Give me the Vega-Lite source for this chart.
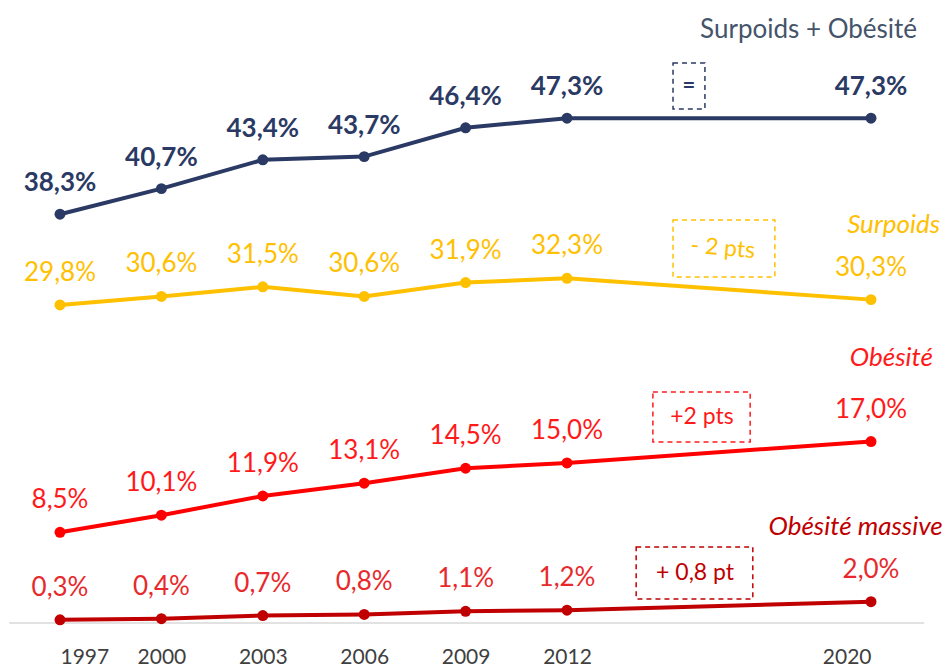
{
  "$schema": "https://vega.github.io/schema/vega-lite/v6.json",
  "autosize": {"type": "none"},
  "width": 947,
  "height": 619,
  "padding": {"top": 4, "left": 0, "right": 0, "bottom": 43},
  "background": "white",
  "config": {
    "view": {"stroke": null},
    "font": "Lato",
    "locale": {"number": {"decimal": ",", "thousands": " ", "grouping": [3], "currency": ["", " €"], "percent": "%"}}
  },
  "datasets": {
    "series": [
      {"series": "Surpoids + Obésité", "year": 1997, "v": 0.383},
      {"series": "Surpoids + Obésité", "year": 2000, "v": 0.407},
      {"series": "Surpoids + Obésité", "year": 2003, "v": 0.434},
      {"series": "Surpoids + Obésité", "year": 2006, "v": 0.437},
      {"series": "Surpoids + Obésité", "year": 2009, "v": 0.464},
      {"series": "Surpoids + Obésité", "year": 2012, "v": 0.473},
      {"series": "Surpoids + Obésité", "year": 2020, "v": 0.473},
      {"series": "Surpoids", "year": 1997, "v": 0.298},
      {"series": "Surpoids", "year": 2000, "v": 0.306},
      {"series": "Surpoids", "year": 2003, "v": 0.315},
      {"series": "Surpoids", "year": 2006, "v": 0.306},
      {"series": "Surpoids", "year": 2009, "v": 0.319},
      {"series": "Surpoids", "year": 2012, "v": 0.323},
      {"series": "Surpoids", "year": 2020, "v": 0.303},
      {"series": "Obésité", "year": 1997, "v": 0.085},
      {"series": "Obésité", "year": 2000, "v": 0.101},
      {"series": "Obésité", "year": 2003, "v": 0.119},
      {"series": "Obésité", "year": 2006, "v": 0.131},
      {"series": "Obésité", "year": 2009, "v": 0.145},
      {"series": "Obésité", "year": 2012, "v": 0.150},
      {"series": "Obésité", "year": 2020, "v": 0.170},
      {"series": "Obésité massive", "year": 1997, "v": 0.003},
      {"series": "Obésité massive", "year": 2000, "v": 0.004},
      {"series": "Obésité massive", "year": 2003, "v": 0.007},
      {"series": "Obésité massive", "year": 2006, "v": 0.008},
      {"series": "Obésité massive", "year": 2009, "v": 0.011},
      {"series": "Obésité massive", "year": 2012, "v": 0.012},
      {"series": "Obésité massive", "year": 2020, "v": 0.020}
    ],
    "titles": [
      {"series": "Surpoids + Obésité", "x": 2021.21, "y": 0.5557},
      {"series": "Surpoids", "x": 2021.82, "y": 0.3729},
      {"series": "Obésité", "x": 2021.63, "y": 0.2483},
      {"series": "Obésité massive", "x": 2021.89, "y": 0.090}
    ],
    "boxes": [
      {"series": "Surpoids + Obésité", "label": "=", "x1": 2014.79, "x2": 2015.63, "y1": 0.4816, "y2": 0.5247, "xt": 2015.21, "yt": 0.503},
      {"series": "Surpoids", "label": "- 2 pts", "x1": 2014.79, "x2": 2017.47, "y1": 0.3242, "y2": 0.3776, "xt": 2016.1, "yt": 0.351},
      {"series": "Obésité", "label": "+2 pts", "x1": 2014.26, "x2": 2016.82, "y1": 0.1696, "y2": 0.2165, "xt": 2015.55, "yt": 0.193},
      {"series": "Obésité massive", "label": "+ 0,8 pt", "x1": 2013.82, "x2": 2016.89, "y1": 0.0225, "y2": 0.0712, "xt": 2015.37, "yt": 0.047}
    ],
    "base": [{"x1": 1995.5, "x2": 2021.4, "y": 0}]
  },
  "layer": [
    {
      "data": {"name": "base"},
      "mark": {"type": "rule", "color": "#D9D9D9", "strokeWidth": 1.5},
      "encoding": {
        "x": {"field": "x1", "type": "quantitative", "scale": {"domain": [1997, 2012, 2020], "range": [60, 567, 871], "zero": false, "nice": false},
          "axis": {"values": [1997, 2000, 2003, 2006, 2009, 2012, 2020], "format": "d", "title": null, "domain": false, "ticks": false, "grid": false, "labelFontSize": 21, "labelColor": "#404040", "labelPadding": 23, "labelFont": "Lato"}},
        "x2": {"field": "x2"},
        "y": {"field": "y", "type": "quantitative", "scale": {"domain": [0, 0.58], "zero": false, "nice": false}, "axis": null}
      }
    },
    {
      "data": {"name": "series"},
      "mark": {"type": "line", "strokeWidth": 4},
      "encoding": {
        "x": {"field": "year", "type": "quantitative"},
        "y": {"field": "v", "type": "quantitative"},
        "color": {"field": "series", "type": "nominal", "scale": {"domain": ["Surpoids + Obésité", "Surpoids", "Obésité", "Obésité massive"], "range": ["#2B3A64", "#FFC000", "#FF0000", "#C00000"]}, "legend": null}
      }
    },
    {
      "data": {"name": "series"},
      "mark": {"type": "point", "filled": true, "size": 120, "opacity": 1},
      "encoding": {
        "x": {"field": "year", "type": "quantitative"},
        "y": {"field": "v", "type": "quantitative"},
        "color": {"field": "series", "type": "nominal", "legend": null}
      }
    },
    {
      "data": {"name": "series"},
      "transform": [{"filter": "datum.series === 'Surpoids + Obésité'"}],
      "mark": {"type": "text", "dy": -31, "fontSize": 26, "fontWeight": "bold", "baseline": "middle", "align": "center", "color": "#2B3A64"},
      "encoding": {
        "x": {"field": "year", "type": "quantitative"},
        "y": {"field": "v", "type": "quantitative"},
        "text": {"field": "v", "type": "quantitative", "format": ".1%"}
      }
    },
    {
      "data": {"name": "series"},
      "transform": [{"filter": "datum.series !== 'Surpoids + Obésité'"}],
      "mark": {"type": "text", "dy": -32, "fontSize": 26, "baseline": "middle", "align": "center"},
      "encoding": {
        "x": {"field": "year", "type": "quantitative"},
        "y": {"field": "v", "type": "quantitative"},
        "text": {"field": "v", "type": "quantitative", "format": ".1%"},
        "color": {"condition": [
          {"test": "datum.series === 'Surpoids'", "value": "#FFC000"},
          {"test": "datum.series === 'Obésité'", "value": "#FF1A1A"}
        ], "value": "#E8292B"}
      }
    },
    {
      "data": {"name": "titles"},
      "transform": [{"filter": "datum.series === 'Surpoids + Obésité'"}],
      "mark": {"type": "text", "align": "right", "baseline": "middle", "fontSize": 26, "color": "#44546A"},
      "encoding": {
        "x": {"field": "x", "type": "quantitative"},
        "y": {"field": "y", "type": "quantitative"},
        "text": {"field": "series"}
      }
    },
    {
      "data": {"name": "titles"},
      "transform": [{"filter": "datum.series !== 'Surpoids + Obésité'"}],
      "mark": {"type": "text", "align": "right", "baseline": "middle", "fontSize": 26, "fontStyle": "italic"},
      "encoding": {
        "x": {"field": "x", "type": "quantitative"},
        "y": {"field": "y", "type": "quantitative"},
        "text": {"field": "series"},
        "color": {"condition": [
          {"test": "datum.series === 'Surpoids'", "value": "#FFC000"},
          {"test": "datum.series === 'Obésité'", "value": "#FF1A1A"}
        ], "value": "#C00000"}
      }
    },
    {
      "data": {"name": "boxes"},
      "mark": {"type": "rect", "fill": null, "filled": false, "strokeWidth": 1.5, "strokeDash": [5, 4]},
      "encoding": {
        "x": {"field": "x1", "type": "quantitative"},
        "x2": {"field": "x2"},
        "y": {"field": "y1", "type": "quantitative"},
        "y2": {"field": "y2"},
        "stroke": {"condition": [
          {"test": "datum.series === 'Surpoids + Obésité'", "value": "#2B3A64"},
          {"test": "datum.series === 'Surpoids'", "value": "#FFC000"},
          {"test": "datum.series === 'Obésité'", "value": "#FF1A1A"}
        ], "value": "#C00000"}
      }
    },
    {
      "data": {"name": "boxes"},
      "transform": [{"filter": "datum.series === 'Surpoids + Obésité'"}],
      "mark": {"type": "text", "align": "center", "baseline": "middle", "fontSize": 22, "fontWeight": "bold", "color": "#2B3A64"},
      "encoding": {
        "x": {"field": "xt", "type": "quantitative"},
        "y": {"field": "yt", "type": "quantitative"},
        "text": {"field": "label"}
      }
    },
    {
      "data": {"name": "boxes"},
      "transform": [{"filter": "datum.series !== 'Surpoids + Obésité'"}],
      "mark": {"type": "text", "align": "center", "baseline": "middle", "fontSize": 23},
      "encoding": {
        "x": {"field": "xt", "type": "quantitative"},
        "y": {"field": "yt", "type": "quantitative"},
        "text": {"field": "label"},
        "angle": {"condition": {"test": "datum.series === 'Surpoids'", "value": 5}, "value": 0},
        "color": {"condition": [
          {"test": "datum.series === 'Surpoids'", "value": "#FFC000"},
          {"test": "datum.series === 'Obésité'", "value": "#FF1A1A"}
        ], "value": "#C00000"}
      }
    }
  ]
}
